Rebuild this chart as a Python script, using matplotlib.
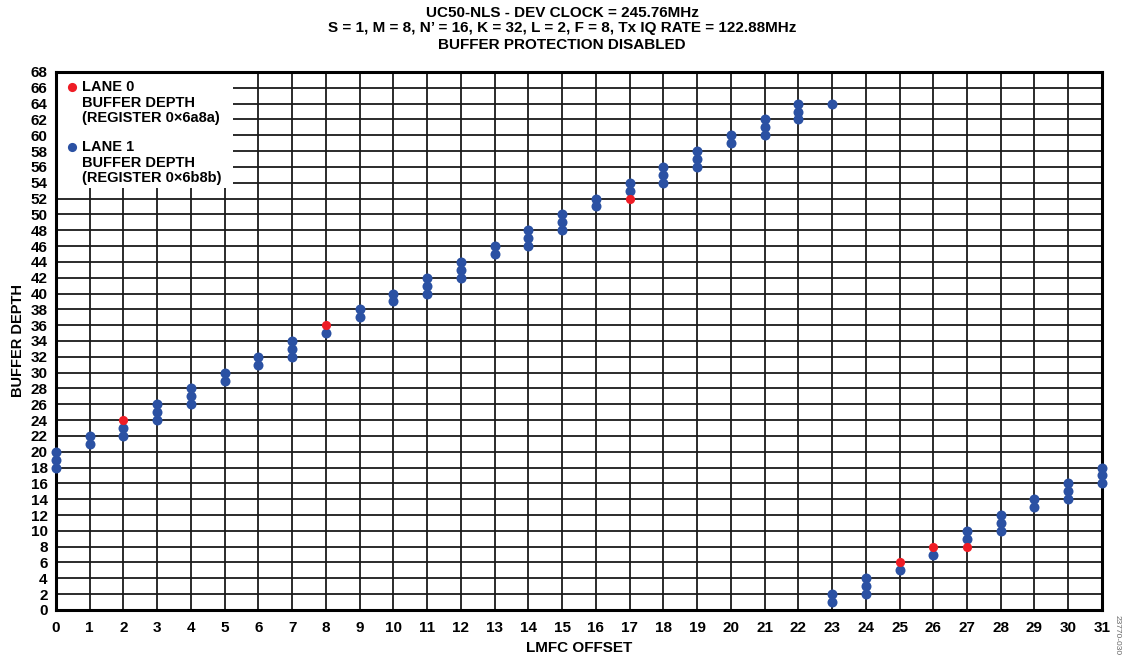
import matplotlib.pyplot as plt
from matplotlib.patches import Rectangle

plt.rcParams['font.family'] = ['Liberation Sans', 'DejaVu Sans']
plt.rcParams['font.weight'] = 'bold'
plt.rcParams['axes.labelweight'] = 'bold'

# lane 1 buffer depth readings (blue), grouped per LMFC offset
lane1_offset = [0, 0, 0, 1, 1, 2, 2, 3, 3, 3, 4, 4, 4, 5, 5, 6, 6, 7, 7, 7,
                8, 9, 9, 10, 10, 11, 11, 11, 12, 12, 12, 13, 13, 14, 14, 14,
                15, 15, 15, 16, 16, 17, 17, 18, 18, 18, 19, 19, 19, 20, 20,
                21, 21, 21, 22, 22, 22, 23, 23, 23, 24, 24, 24, 25, 26, 27, 27,
                28, 28, 28, 29, 29, 30, 30, 30, 31, 31, 31]
lane1_depth = [18, 19, 20, 21, 22, 22, 23, 24, 25, 26, 26, 27, 28, 29, 30, 31, 32, 32, 33, 34,
               35, 37, 38, 39, 40, 40, 41, 42, 42, 43, 44, 45, 46, 46, 47, 48,
               48, 49, 50, 51, 52, 53, 54, 54, 55, 56, 56, 57, 58, 59, 60,
               60, 61, 62, 62, 63, 64, 64, 1, 2, 2, 3, 4, 5, 7, 9, 10,
               10, 11, 12, 13, 14, 14, 15, 16, 16, 17, 18]

# lane 0 buffer depth readings (red)
lane0_offset = [2, 8, 17, 25, 26, 27]
lane0_depth = [24, 36, 52, 6, 8, 8]

x_ticks = list(range(0, 32))
y_ticks = list(range(0, 69, 2))

title_lines = ['UC50-NLS - DEV CLOCK = 245.76MHz',
               'S = 1, M = 8, N\u2019 = 16, K = 32, L = 2, F = 8, Tx IQ RATE = 122.88MHz',
               'BUFFER PROTECTION DISABLED']

blue = '#2b51a3'
red = '#ee1c25'

fig = plt.figure(figsize=(11.24, 6.58), dpi=100)
ax = fig.add_axes([0.0498, 0.073, 0.9306, 0.8176])

ax.set_xlim(0, 31)
ax.set_ylim(0, 68)
ax.set_xticks(x_ticks)
ax.set_yticks(y_ticks)
ax.grid(True, color='#1a1a1a', linewidth=1.3)
ax.set_axisbelow(True)
ax.tick_params(length=0, labelsize=11)
ax.tick_params(axis='x', pad=8)
ax.tick_params(axis='y', pad=6)
for s in ax.spines.values():
    s.set_linewidth(2.2)
    s.set_color('black')
    s.set_zorder(5)

ax.plot(lane1_offset, lane1_depth, 'o', color=blue, markersize=7.2,
        markeredgewidth=0, clip_on=False, zorder=6)
ax.plot(lane0_offset, lane0_depth, 'o', color=red, markersize=6.6,
        markeredgewidth=0, clip_on=False, zorder=7)

ax.set_xlabel('LMFC OFFSET', fontsize=11)
ax.set_ylabel('BUFFER DEPTH', fontsize=10.5)
ax.xaxis.set_label_coords(0.5, (610 - 648) / 538)
ax.yaxis.set_label_coords((18 - 56) / 1046, 0.5)
ax.xaxis.label.set_va('center')
ax.yaxis.label.set_va('center')

for line, py in zip(title_lines, [13, 28, 45]):
    fig.text(0.5, 1 - py / 658, line, fontsize=11, fontweight='bold',
             ha='center', va='center')


# legend drawn by hand so the marker sits beside the first line
def ax_pt(px, py):
    return (px - 56) / 1046, (610 - py) / 538


x0, y0 = ax_pt(57, 188)
x1, y1 = ax_pt(233, 73)
ax.add_patch(Rectangle((x0, y0), x1 - x0, y1 - y0, transform=ax.transAxes,
                       facecolor='white', edgecolor='none', zorder=3))
for color, py, lines in [(red, 87, ['LANE 0', 'BUFFER DEPTH', '(REGISTER 0\u00d76a8a)']),
                         (blue, 147, ['LANE 1', 'BUFFER DEPTH', '(REGISTER 0\u00d76b8b)'])]:
    mx, my = ax_pt(72, py)
    ax.plot([mx], [my], 'o', color=color, markersize=6.6, markeredgewidth=0,
            transform=ax.transAxes, zorder=4)
    tx, ty = ax_pt(82, py - 7)
    ax.text(tx, ty, '\n'.join(lines), transform=ax.transAxes, fontsize=10.5,
            va='top', ha='left', linespacing=1.15, zorder=4)

fig.text(0.991, 0.035, '23770-030', rotation=270, fontsize=6, color='#666666',
         fontweight='normal', ha='left', va='center')

fig.savefig('out.png', dpi=100)
